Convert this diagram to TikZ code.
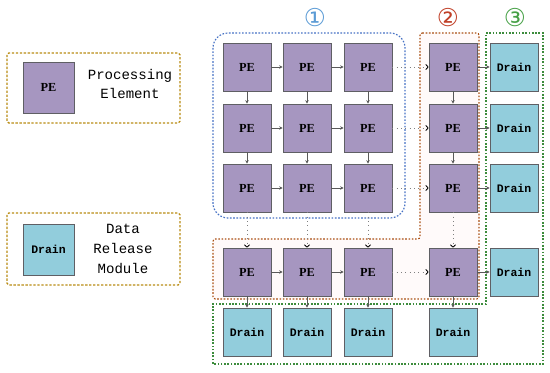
\documentclass[tikz,border=0pt]{standalone}
\usepackage{fontspec}
\setmainfont{Liberation Serif}
\setmonofont{Liberation Mono}
\newfontfamily\symfont{DejaVu Sans}
\usetikzlibrary{arrows.meta, positioning, calc}
\definecolor{pefill}{RGB}{166,150,192}
\definecolor{drainfill}{RGB}{146,205,220}
\definecolor{boxline}{RGB}{95,95,100}
\definecolor{grpone}{RGB}{70,114,196}
\definecolor{grptwo}{RGB}{170,80,20}
\definecolor{grpthree}{RGB}{60,140,60}
\definecolor{legendline}{RGB}{185,140,20}
\definecolor{numone}{RGB}{91,155,213}
\definecolor{numtwo}{RGB}{192,64,40}
\definecolor{numthree}{RGB}{70,160,70}

\tikzset{
  pebox/.style={draw=boxline, fill=pefill, line width=0.6pt, minimum size=1.44cm, inner sep=0pt, font=\bfseries\fontsize{10.5}{12}\selectfont},
  drainbox/.style={draw=boxline, fill=drainfill, line width=0.6pt, minimum size=1.44cm, inner sep=0pt, font=\ttfamily\bfseries\fontsize{9.8}{11}\selectfont},
  flow/.style={draw=black!65, line width=0.5pt, -{Stealth[length=3pt, width=3pt]}},
  dotflow/.style={draw=black!50, line width=0.7pt, dash pattern=on 0.7pt off 3pt, -{Straight Barb[black, length=2pt, width=4.5pt]}},
  grpline/.style={line width=1pt, dash pattern=on 1.4pt off 1.4pt},
  legendframe/.style={draw=legendline, line width=1pt, dash pattern=on 2pt off 1.4pt, rounded corners=1.5pt},
  legendtext/.style={align=center, font=\ttfamily\fontsize{12}{17}\selectfont},
  numlabel/.style={font=\symfont\fontsize{21}{21}\selectfont, inner sep=0pt}
}

\begin{document}
\begin{tikzpicture}[x=0.03cm, y=-0.03cm]
        \useasboundingbox (0,0) rectangle (550,373);

        % 区域框
        \draw[grpline, draw=grpthree] (486,33) -- (543,33) -- (543,364) -- (213,364) -- (213,304) -- (486,304) -- cycle;
        \draw[grpline, draw=grptwo, fill=red!2, rounded corners=2pt] (420,33) -- (479,33) -- (479,299) -- (213,299) -- (213,239) -- (420,239) -- cycle;
        \draw[grpline, draw=grpone, rounded corners=0.45cm] (213,33) rectangle (405,218);

        % 区域编号
        \node[numlabel, numone] (num-1) at (315,18) {①};
        \node[numlabel, numtwo] (num-2) at (448,18) {②};
        \node[numlabel, numthree] (num-3) at (515,18) {③};

        % PE 阵列
        \foreach \r/\y in {1/67, 2/128, 3/188, 4/272} {
            \foreach \c/\x in {1/247, 2/307, 3/368, 4/453} {
                \node[pebox] (pe-\r-\c) at (\x,\y) {PE};
            }
            \node[drainbox] (dr-\r) at (514,\y) {Drain};
        }
        \foreach \c/\x in {1/247, 2/307, 3/368, 4/453} {
            \node[drainbox] (db-\c) at (\x,332) {Drain};
        }

        % 数据流
        \foreach \r in {1,...,4} {
            \draw[flow] (pe-\r-1) -- (pe-\r-2);
            \draw[flow] (pe-\r-2) -- (pe-\r-3);
            \draw[dotflow] (pe-\r-3) -- (pe-\r-4);
            \draw[flow] (pe-\r-4) -- (dr-\r);
        }
        \foreach \c in {1,...,4} {
            \draw[flow] (pe-1-\c) -- (pe-2-\c);
            \draw[flow] (pe-2-\c) -- (pe-3-\c);
            \draw[dotflow] (pe-3-\c) -- (pe-4-\c);
            \draw[flow] (pe-4-\c) -- (db-\c);
        }

        % 图例
        \draw[legendframe] (7,53) rectangle (180,123);
        \node[pebox, minimum size=1.53cm] (lg-pe) at (48.5,87.5) {PE};
        \node[legendtext] (lg-pe-text) at (130,84) {Processing\\Element};

        \draw[legendframe] (7,213) rectangle (180,285);
        \node[drainbox, minimum size=1.53cm] (lg-dr) at (48.5,249.5) {Drain};
        \node[legendtext] (lg-dr-text) at (123,249) {Data\\Release\\Module};

    \end{tikzpicture}
\end{document}
